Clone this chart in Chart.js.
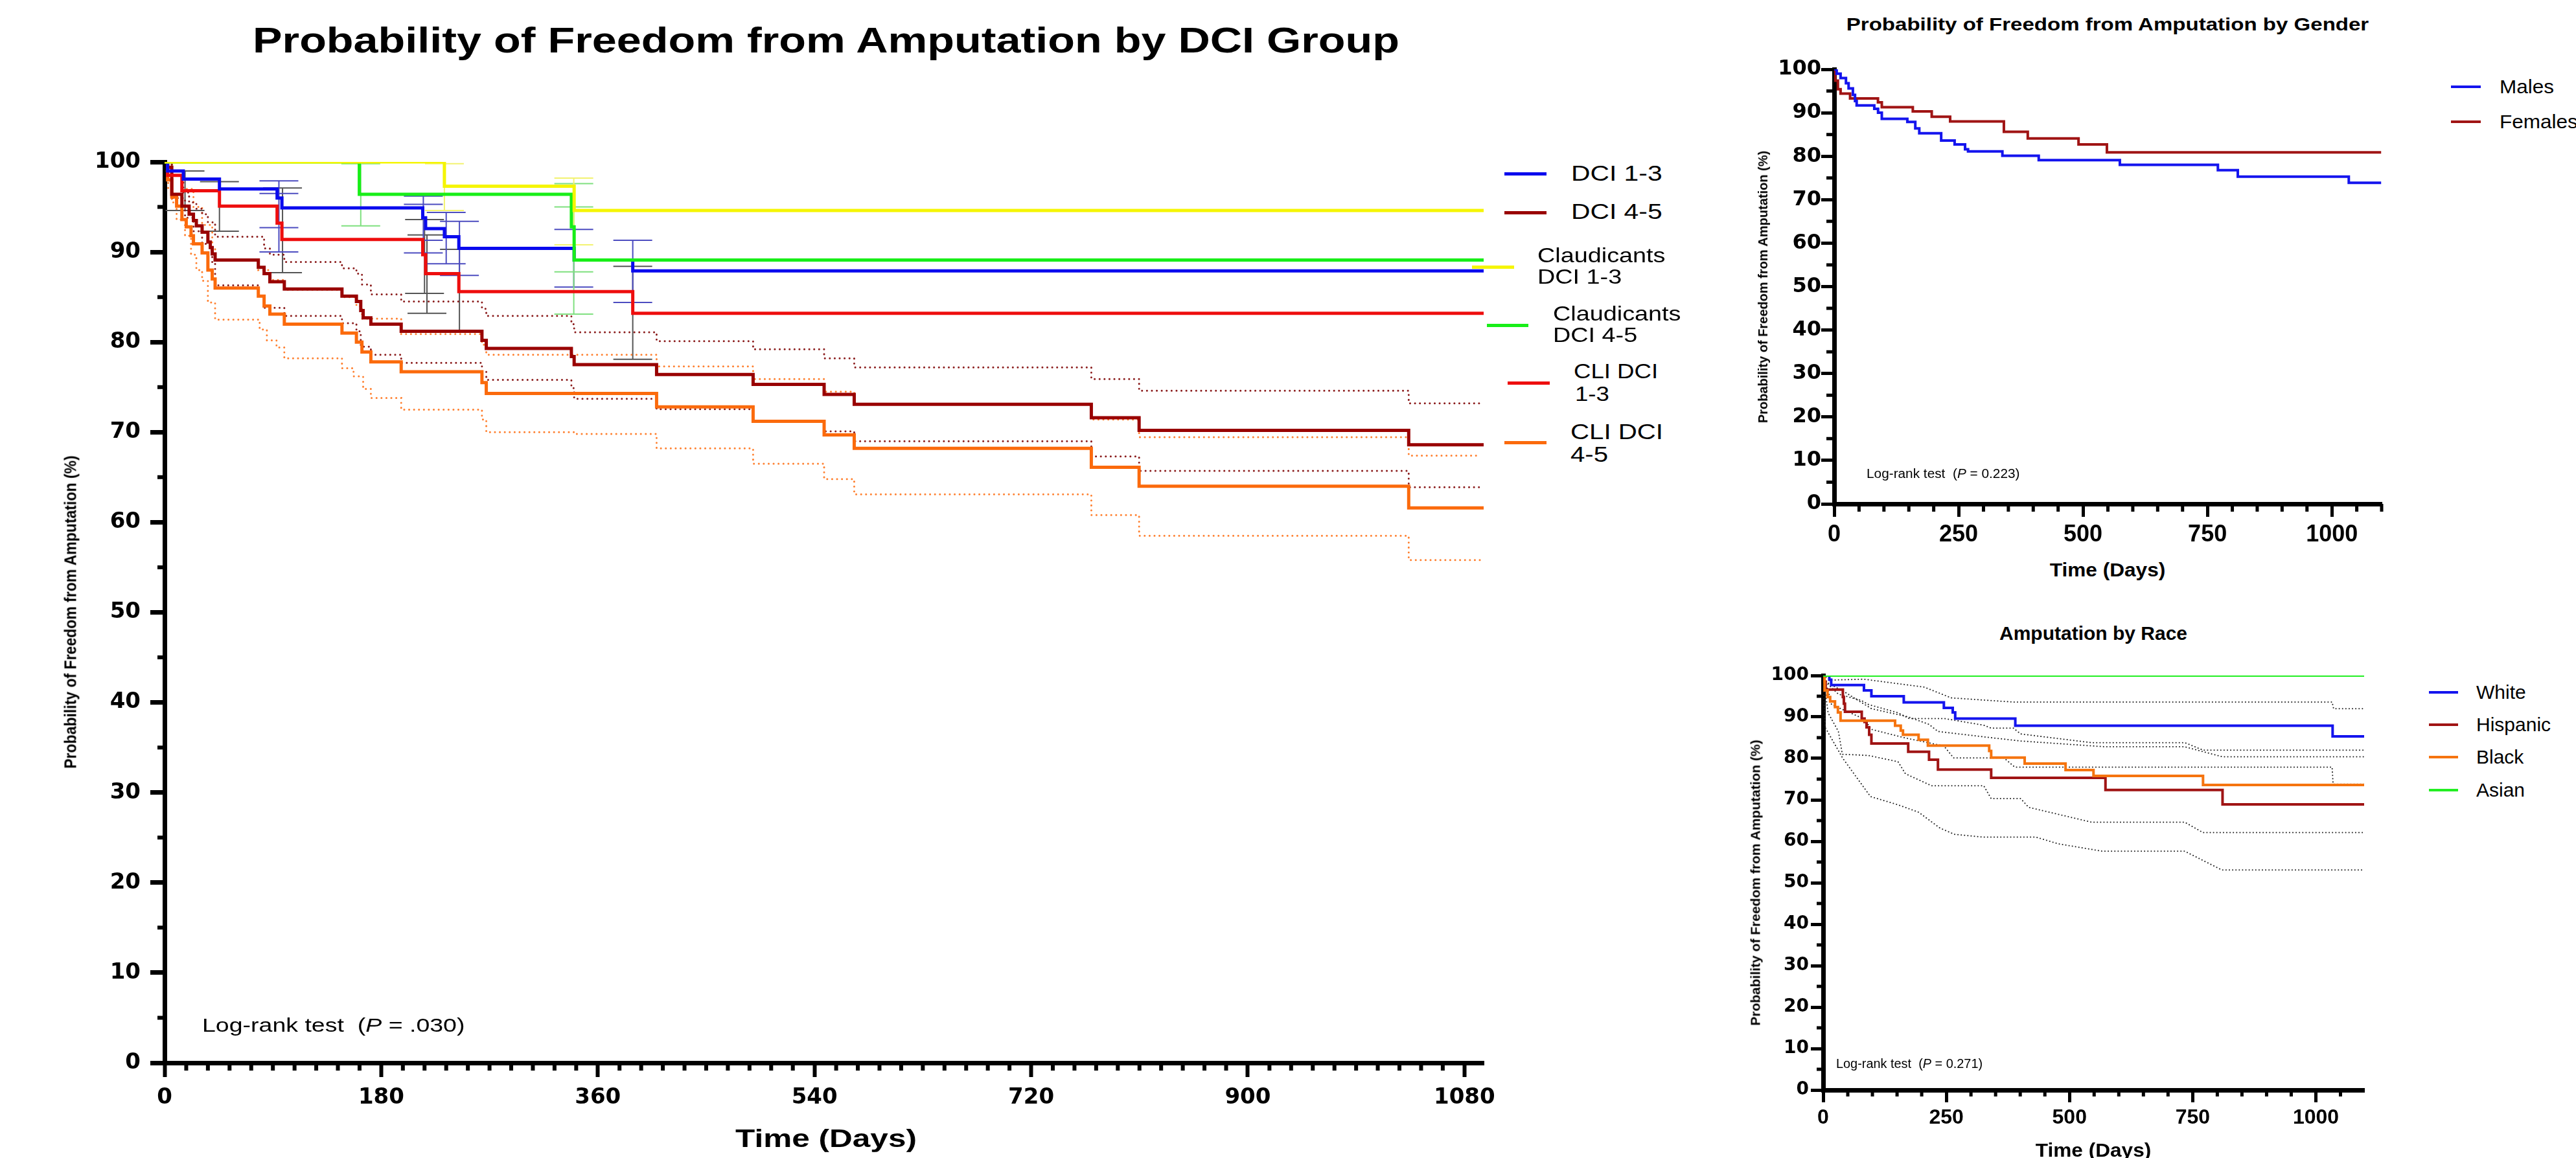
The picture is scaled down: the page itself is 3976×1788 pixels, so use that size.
<!DOCTYPE html>
<html>
<head>
<meta charset="utf-8">
<script src="https://cdn.jsdelivr.net/npm/chart.js@4.4.0/dist/chart.umd.min.js"></script>
<style>
  html, body { margin: 0; padding: 0; background: #fff; }
  #page { position: relative; width: 3976px; height: 1788px; overflow: hidden; background: #fff;
          font-family: "Liberation Sans", Arial, sans-serif; color: #000; }
  #page canvas { position: absolute; }
  .t { position: absolute; white-space: pre; line-height: 1; }
  .key { position: absolute; }
</style>
</head>
<body>
<div id="page">
  <canvas id="mainChart" width="2320" height="1788" style="left:0px;top:0px;width:2320px;height:1788px"></canvas>
  <canvas id="genderChart" width="1000" height="800" style="left:2700px;top:60px;width:1000px;height:800px"></canvas>
  <canvas id="raceChart" width="970" height="788" style="left:2700px;top:1000px;width:970px;height:788px"></canvas>
</div>
<script>
// ---- DCI GROUP (main) : [day, % free from amputation] ----
const dci13 = [[0,100],[2.5,99.0],[15.6,98.1],[45.6,97.0],[93.5,96.0],[97.5,94.9],[214.5,93.8],[216.9,92.6],[232.5,91.7],[244.5,90.4],[340.3,89.1],[389,87.9],[1096,87.9]];
const dci45 = [[0,100],[2.5,99.4],[6,96.4],[14.4,95.1],[20.4,94.2],[24,93.5],[26.4,92.9],[31.2,92.2],[36,91.1],[38,90.5],[39.6,89.8],[42,89.1],[77.9,88.3],[82.7,87.6],[87.5,86.7],[99.5,85.9],[147.4,85.1],[159.4,84.5],[163,83.5],[165,82.7],[171.4,82.0],[196.6,81.2],[263.7,80.2],[267.3,79.3],[338,78.4],[340.3,77.5],[408.8,76.4],[489,75.3],[548,74.2],[573,73.1],[770,71.6],[809.7,70.2],[1033.7,68.6],[1096,68.6]];
const claud13 = [[0,100],[232.5,97.3],[340.3,94.6],[1096,94.6]];
const claud45 = [[0,100],[161.8,96.4],[338,92.8],[340.3,89.1],[1096,89.1]];
const cli13 = [[0,100],[2.5,98.5],[14.4,96.8],[45.6,95.1],[93.5,93.2],[97.5,91.4],[214.5,89.7],[216.9,87.6],[244.5,85.6],[389,83.2],[1096,83.2]];
const cli45 = [[0,100],[2.5,98.0],[6,96.1],[10,95.1],[14.4,93.6],[18,92.8],[22,91.8],[24,90.9],[31.2,89.9],[36,88.0],[39.6,87.0],[42,86.0],[77.9,85.1],[82.7,84.0],[87.5,83.1],[99.5,82.0],[147.4,81.0],[159.4,80.0],[164,78.9],[171.4,77.8],[196.6,76.7],[263.7,75.5],[267.3,74.3],[408.8,72.8],[489,71.2],[548,69.7],[573,68.2],[770,66.1],[809.7,64.0],[1033.7,61.6],[1096,61.6]];

// 95% CI bands (dotted)
const dci45Upper = [[0,100],[6,98.5],[15.6,96.6],[20.4,95.5],[26.4,94.8],[31.2,94.2],[36,93.3],[42,91.7],[82.7,90.4],[87.5,89.7],[99.5,88.9],[147.4,88.2],[159.4,87.6],[164,86.4],[171.4,85.3],[196.6,84.5],[263.7,83.7],[267.3,82.9],[338,82.0],[340.3,81.1],[408.8,80.1],[489,79.2],[548,78.2],[573,77.2],[770,75.9],[809.7,74.6],[1033.7,73.2],[1093,73.2]];
const dci45Lower = [[0,100],[6,96.0],[17,93.8],[24,92.3],[31.2,90.9],[39.6,88.7],[42,86.3],[77.9,85.1],[82.7,83.8],[99.5,82.9],[147.4,82.1],[159.4,81.2],[163,79.5],[171.4,78.6],[196.6,77.7],[263.7,76.7],[267.3,75.8],[338,74.9],[340.3,73.7],[408.8,72.55],[489,71.25],[548,70.1],[573,69.0],[770,67.3],[809.7,65.7],[1033.7,63.9],[1093,63.9]];
const cli45Upper = [[0,100],[6,98.5],[14.4,97.0],[24,95.0],[31.2,93.0],[39.6,90.5],[42,89.1],[77.9,88.0],[87.5,86.9],[99.5,85.8],[147.4,85.0],[159.4,84.0],[164,82.6],[196.6,80.9],[263.7,79.7],[267.3,78.6],[408.8,77.3],[489,75.9],[548,74.5],[573,73.1],[770,71.4],[809.7,69.45],[1033.7,67.4],[1093,67.4]];
const cli45Lower = [[0,100],[3,97.0],[6,95.5],[10,93.6],[17,91.8],[22,89.7],[26.4,88.0],[31.2,86.8],[36,84.4],[42,82.5],[79,81.4],[85,80.2],[93,79.4],[99.5,78.2],[147.4,77.1],[157,76.2],[165,74.8],[171.4,73.8],[196.6,72.5],[263.7,71.4],[267.3,70.0],[340.3,69.8],[408.8,68.2],[489,66.5],[548,64.8],[573,63.1],[770,60.8],[809.7,58.5],[1033.7,55.8],[1093,55.8]];

// error bars: [day, low, high]
const errGray = [[17,94.6,99.0],[45.6,92.3,97.8],[98,87.7,97.1],[216,85.4,93.6],[218,83.2,91.9],[245,81.2,90.3],[389,78.1,88.4]];
const errBlue = [[95,90.0,97.9],[95,92.7,96.5],[215,89.9,96.2],[215,91.3,95.3],[234,88.7,94.4],[245,87.4,93.4],[340,86.1,92.5],[389,84.4,91.3]];
const errGreen = [[163,92.9,99.8],[340,87.8,97.6],[340,83.1,95.0]];
const errYellow = [[232.5,94.6,99.8],[340,90.8,98.2]];

const mainXTicks = [0, 180, 360, 540, 720, 900, 1080];
const pctTicks = [0, 10, 20, 30, 40, 50, 60, 70, 80, 90, 100];

// ---- GENDER ----
const males = [[0,100],[5,99.0],[12.9,98.0],[23.7,96.8],[29,95.6],[37.6,94.1],[41.9,92.7],[45.2,91.7],[80.6,90.9],[88.2,90.0],[95.7,88.6],[147,87.9],[163,86.4],[171,85.3],[215,83.6],[242,82.7],[263,81.6],[269,81.1],[338,80.1],[411,79.1],[574,78.0],[771,76.8],[811,75.3],[1034,73.9],[1099,73.9]];
const females = [[0,100],[2,97.4],[7.5,95.4],[12.9,94.4],[32,93.3],[88,92.4],[95.7,91.3],[158,90.3],[196,89.1],[233,88.0],[341,85.6],[389,84.1],[491,82.7],[548,80.9],[1099,80.9]];

// ---- RACE ----
const white = [[0,100],[12.5,99.0],[16.3,97.7],[82.8,96.4],[97.9,95.0],[163.6,93.5],[245,92.2],[263,91.1],[268,89.6],[390,87.9],[1034,85.3],[1098,85.3]];
const hispanic = [[0,100],[2,98.5],[5,96.6],[40,94.8],[42,93.2],[44.3,91.25],[78.3,89.6],[84,88.8],[88.1,87.5],[93.4,85.7],[97.9,83.6],[172.6,81.6],[214.9,79.7],[233,77.3],[341,75.3],[573,72.4],[810.6,68.9],[1098,68.9]];
const black = [[0,100],[2.9,96.4],[8.8,94.8],[14.2,93.75],[24,92.4],[30,91.1],[35.3,89.1],[146,87.9],[157.5,86.7],[162,85.7],[193.7,84.5],[212.6,83.1],[337,81.8],[341,80.2],[409,78.75],[492,77.2],[548.7,75.8],[771,73.6],[1098,73.6]];
const asian = [[0,100],[1098,100]];

const whiteUpper = [[0,100],[16,98.9],[83,99.1],[205,97.2],[260,94.6],[386,93.6],[1033,93.6],[1036,92.0],[1098,92.0]];
const whiteLower = [[0,100],[12,95.5],[17,93.0],[83,89.5],[98,87.0],[164,85.0],[245,83.0],[265,80.1],[367,80.1],[389,77.9],[1033,77.9],[1035,73.8],[1098,73.8]];
const blackUpper = [[0,100],[9,98.0],[31,95.5],[77,94.0],[92,93.0],[152,91.0],[175,89.6],[247,89.6],[326,88.0],[341,87.3],[386,87.3],[401,85.9],[545,83.8],[734,83.8],[771,82.0],[1098,82.0]];
const blackLower = [[0,100],[10,91.0],[31,86.5],[39,81.0],[92,80.7],[152,79.2],[167,76.3],[220,73.4],[326,73.4],[341,70.3],[401,70.3],[417,68.2],[545,64.6],[734,64.6],[771,62.1],[1098,62.1]];
const hispUpper = [[0,100],[5,98.5],[44,96.0],[98,92.0],[173,90.0],[215,88.2],[233,86.5],[341,85.0],[401,84.2],[573,82.8],[734,82.8],[810,80.4],[1098,80.4]];
const hispLower = [[0,100],[4,87.5],[40,80.0],[96,70.8],[152,68.8],[194,67.0],[237,63.2],[266,61.7],[326,61.0],[432,61.0],[477,59.4],[567,57.6],[734,57.6],[809,53.1],[1098,53.1]];

const smallXTicks = [0, 250, 500, 750, 1000];

// ---------------------------------------------------------------
const pts = arr => arr.map(p => ({x: p[0], y: p[1]}));

function km(data, color, width) {
  return {data: pts(data), borderColor: color, borderWidth: width, stepped: true,
          pointRadius: 0, fill: false, borderCapStyle: 'butt', borderJoinStyle: 'miter'};
}
function dotted(data, color, width, gap, stepped) {
  return {data: pts(data), borderColor: color, borderWidth: width, stepped: stepped,
          pointRadius: 0, fill: false, tension: 0, borderCapStyle: 'round', borderDash: [0.1, gap]};
}

// minor tick marks between the labelled ones
const minorTicks = {
  id: 'minorTicks',
  afterDraw(chart, args, o) {
    const {ctx, scales: {x, y}} = chart;
    ctx.save();
    ctx.strokeStyle = '#000';
    ctx.lineWidth = o.width;
    ctx.beginPath();
    for (let i = 1; i * o.xStep <= x.max; i++) {
      const v = i * o.xStep;
      if (Math.abs(v / o.xMajor - Math.round(v / o.xMajor)) < 1e-6) continue;
      const px = x.getPixelForValue(v);
      ctx.moveTo(px, x.top); ctx.lineTo(px, x.top + o.xLen);
    }
    for (let i = 1; i * o.yStep <= y.max; i++) {
      const v = i * o.yStep;
      if (v % o.yMajor === 0) continue;
      const py = y.getPixelForValue(v);
      ctx.moveTo(y.right, py); ctx.lineTo(y.right - o.yLen, py);
    }
    ctx.stroke();
    ctx.restore();
  }
};

// error bars with caps
const errorBars = {
  id: 'errorBars',
  beforeDatasetsDraw(chart, args, o) {
    if (!o.sets) return;
    const {ctx, scales: {x, y}} = chart;
    ctx.save();
    o.sets.forEach(set => {
      ctx.strokeStyle = set.color;
      ctx.lineWidth = o.width;
      ctx.beginPath();
      set.data.forEach(([d, lo, hi]) => {
        const px = x.getPixelForValue(d), p1 = y.getPixelForValue(lo), p2 = y.getPixelForValue(hi);
        ctx.moveTo(px, p1); ctx.lineTo(px, p2);
        ctx.moveTo(px - o.cap, p1); ctx.lineTo(px + o.cap, p1);
        ctx.moveTo(px - o.cap, p2); ctx.lineTo(px + o.cap, p2);
      });
      ctx.stroke();
    });
    ctx.restore();
  }
};

function kmScales(o) {
  return {
    x: {
      type: 'linear', min: 0, max: o.xMax,
      afterBuildTicks: s => { s.ticks = o.xTicks.map(v => ({value: v})); },
      afterFit: s => { s.height = o.xHeight; },
      border: {display: true, color: '#000', width: 7},
      grid: {drawOnChartArea: false, drawTicks: true, tickLength: o.tickLen, tickWidth: o.xTickWidth, tickColor: '#000'},
      ticks: {color: '#000', font: o.xFont, padding: o.xPad, maxRotation: 0, autoSkip: false,
              callback: v => String(v)}
    },
    y: {
      type: 'linear', min: 0, max: 100,
      afterBuildTicks: s => { s.ticks = pctTicks.map(v => ({value: v})); },
      afterFit: s => { s.width = o.yWidth; },
      border: {display: true, color: '#000', width: 7},
      grid: {drawOnChartArea: false, drawTicks: true, tickLength: o.tickLen, tickWidth: o.yTickWidth, tickColor: '#000'},
      ticks: {color: '#000', font: o.yFont, padding: o.yPad, autoSkip: false,
              callback: v => String(v)}
    }
  };
}

Chart.defaults.animation = false;
Chart.defaults.events = [];

// MAIN - DCI GROUP
new Chart(document.getElementById('mainChart'), {
  type: 'line',
  data: {datasets: [
    km(claud13, '#f5f500', 5),
    km(claud45, '#18ee18', 5),
    km(dci13, '#0a0aee', 5),
    km(cli13, '#ee0e0e', 5),
    km(dci45, '#990000', 5),
    km(cli45, '#fb6a0c', 5),
    dotted(dci45Upper, '#8b1c1c', 3, 7.5, true),
    dotted(dci45Lower, '#8b1c1c', 3, 7.5, true),
    dotted(cli45Upper, '#ff8030', 3, 7.5, true),
    dotted(cli45Lower, '#ff8030', 3, 7.5, true)
  ]},
  options: {
    responsive: false, maintainAspectRatio: false,
    layout: {padding: {left: 0, right: 25, top: 250, bottom: 0}},
    scales: kmScales({xMax: 1096, xTicks: mainXTicks, xHeight: 147, yWidth: 254, tickLen: 22,
      xTickWidth: 6, yTickWidth: 7, xPad: 12, yPad: 15,
      xFont: {family: 'DejaVu Sans', weight: 'bold', size: 34},
      yFont: {family: 'DejaVu Sans', weight: 'bold', size: 34}}),
    plugins: {
      legend: {display: false}, tooltip: {enabled: false},
      minorTicks: {xStep: 18, xMajor: 180, xLen: 12, yStep: 5, yMajor: 10, yLen: 11, width: 6},
      errorBars: {width: 2, cap: 30, sets: [
        {color: '#555555', data: errGray},
        {color: '#4c4cc0', data: errBlue},
        {color: '#7fe07f', data: errGreen},
        {color: '#f2f270', data: errYellow}
      ]}
    }
  },
  plugins: [minorTicks, errorBars]
});

// GENDER
new Chart(document.getElementById('genderChart'), {
  type: 'line',
  data: {datasets: [
    km(males, '#1414ee', 4),
    km(females, '#a01414', 4)
  ]},
  options: {
    responsive: false, maintainAspectRatio: false,
    layout: {padding: {left: 0, right: 24, top: 47, bottom: 0}},
    scales: kmScales({xMax: 1100, xTicks: smallXTicks, xHeight: 82, yWidth: 131, tickLen: 20,
      xTickWidth: 5, yTickWidth: 5, xPad: 6, yPad: 0,
      xFont: {family: 'Liberation Sans', weight: 'bold', size: 36},
      yFont: {family: 'DejaVu Sans', weight: 'bold', size: 32}}),
    plugins: {
      legend: {display: false}, tooltip: {enabled: false},
      minorTicks: {xStep: 50, xMajor: 250, xLen: 12, yStep: 5, yMajor: 10, yLen: 12, width: 5}
    }
  },
  plugins: [minorTicks]
});

// RACE
new Chart(document.getElementById('raceChart'), {
  type: 'line',
  data: {datasets: [
    km(asian, '#22ee22', 4),
    km(white, '#1414ee', 4),
    km(black, '#f5740f', 4),
    km(hispanic, '#a01414', 4),
    dotted(whiteUpper, '#222222', 2, 5, false),
    dotted(whiteLower, '#222222', 2, 5, false),
    dotted(blackUpper, '#222222', 2, 5, false),
    dotted(blackLower, '#222222', 2, 5, false),
    dotted(hispUpper, '#222222', 2, 5, false),
    dotted(hispLower, '#222222', 2, 5, false)
  ]},
  options: {
    responsive: false, maintainAspectRatio: false,
    layout: {padding: {left: 0, right: 21, top: 43, bottom: 0}},
    scales: kmScales({xMax: 1098, xTicks: smallXTicks, xHeight: 105, yWidth: 114, tickLen: 19,
      xTickWidth: 5, yTickWidth: 5, xPad: 5, yPad: 3,
      xFont: {family: 'Liberation Sans', weight: 'bold', size: 32},
      yFont: {family: 'DejaVu Sans', weight: 'bold', size: 28}}),
    plugins: {
      legend: {display: false}, tooltip: {enabled: false},
      minorTicks: {xStep: 50, xMajor: 250, xLen: 10, yStep: 5, yMajor: 10, yLen: 10, width: 5}
    }
  },
  plugins: [minorTicks]
});

// ---- titles, legends, notes (real text) ----
const page = document.getElementById('page');
function txt(html, x, y, o) {
  const d = document.createElement('div');
  d.className = 't';
  d.innerHTML = html;
  d.style.fontSize = o.size + 'px';
  d.style.fontWeight = o.bold ? 'bold' : 'normal';
  d.style.left = x + 'px';
  d.style.top = y + 'px';
  const s = o.sx || 1;
  if (o.rot) {
    d.style.transform = `translate(-50%,-50%) rotate(-90deg) scaleY(${s})`;
  } else if (o.align === 'left') {
    d.style.transformOrigin = 'left center';
    d.style.transform = `translateY(-50%) scaleX(${s})`;
  } else {
    d.style.transform = `translate(-50%,-50%) scaleX(${s})`;
  }
  page.appendChild(d);
}
function key(x1, x2, y, h, color) {
  const d = document.createElement('div');
  d.className = 'key';
  d.style.left = x1 + 'px'; d.style.width = (x2 - x1) + 'px';
  d.style.top = (y - h / 2) + 'px'; d.style.height = h + 'px';
  d.style.background = color;
  page.appendChild(d);
}

// main
txt('Probability of Freedom from Amputation by DCI Group', 1275, 62, {size: 56, bold: true, sx: 1.22});
txt('Probability of Freedom from Amputation (%)', 109, 945, {size: 23, bold: true, rot: true, sx: 1.15});
txt('Time (Days)', 1275, 1757, {size: 39, bold: true, sx: 1.27});
txt('Log-rank test  (<i>P</i> = .030)', 312, 1583, {size: 30, align: 'left', sx: 1.25});

key(2322, 2387, 268, 5, '#0a0aee');
txt('DCI 1-3', 2425, 267, {size: 34, align: 'left', sx: 1.2});
key(2322, 2387, 328, 5, '#990000');
txt('DCI 4-5', 2425, 326, {size: 34, align: 'left', sx: 1.2});
key(2272, 2337, 412, 5, '#f5f500');
txt('Claudicants', 2373, 395, {size: 31.5, align: 'left', sx: 1.2});
txt('DCI 1-3', 2373, 428, {size: 31.5, align: 'left', sx: 1.2});
key(2295, 2359, 502, 5, '#18ee18');
txt('Claudicants', 2397, 485, {size: 31.5, align: 'left', sx: 1.2});
txt('DCI 4-5', 2397, 518, {size: 31.5, align: 'left', sx: 1.2});
key(2327, 2392, 591, 5, '#ee0e0e');
txt('CLI DCI', 2429, 573, {size: 30.5, align: 'left', sx: 1.2});
txt('1-3', 2431, 608, {size: 30.5, align: 'left', sx: 1.2});
key(2322, 2387, 683, 5, '#fb6a0c');
txt('CLI DCI', 2424, 667, {size: 33.5, align: 'left', sx: 1.2});
txt('4-5', 2424, 702, {size: 33.5, align: 'left', sx: 1.2});

// gender
txt('Probability of Freedom from Amputation by Gender', 3253, 38, {size: 28, bold: true, sx: 1.18});
txt('Probability of Freedom from Amputation (%)', 2721, 443, {size: 20, bold: true, rot: true});
txt('Time (Days)', 3253, 880, {size: 29, bold: true, sx: 1.09});
txt('Log-rank test  (<i>P</i> = 0.223)', 2881, 731, {size: 20, align: 'left', sx: 1.04});
key(3783, 3829, 134, 4, '#1414ee');
txt('Males', 3858, 134, {size: 30, align: 'left', sx: 1.05});
key(3783, 3829, 187.5, 4, '#a01414');
txt('Females', 3858, 187.5, {size: 30, align: 'left', sx: 1.05});

// race
txt('Amputation by Race', 3231, 978, {size: 30, bold: true});
txt('Probability of Freedom from Amputation (%)', 2709, 1363, {size: 21, bold: true, rot: true});
txt('Time (Days)', 3231, 1776, {size: 29, bold: true, sx: 1.09});
txt('Log-rank test  (<i>P</i> = 0.271)', 2834, 1643, {size: 19.5, align: 'left', sx: 1.02});
const raceKeys = [['White', '#1414ee', 1068.7], ['Hispanic', '#a01414', 1118.5], ['Black', '#f5740f', 1169.3], ['Asian', '#22ee22', 1219.6]];
raceKeys.forEach(([name, c, y]) => {
  key(3749, 3794, y, 4, c);
  txt(name, 3822, y, {size: 30, align: 'left'});
});
</script>
</body>
</html>
